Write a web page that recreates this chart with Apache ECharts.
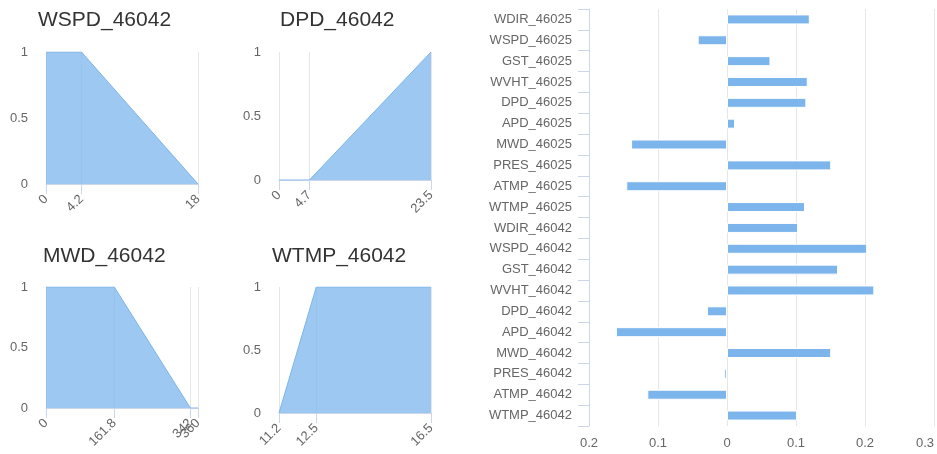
<!DOCTYPE html>
<html>
<head>
<meta charset="utf-8">
<script src="https://cdn.jsdelivr.net/npm/echarts@6/dist/echarts.min.js"></script>
<style>
  html, body { margin: 0; padding: 0; background: #fff; }
  #chart { width: 937px; height: 454px; }
</style>
</head>
<body>
<div id="chart"></div>
<script>
// membership functions (x breakpoints, y degree)
const wspdX = [0, 4.2, 18];
const wspdY = [1, 1, 0];
const dpdX = [0, 4.7, 23.5];
const dpdY = [0, 0, 1];
const mwdX = [0, 161.8, 342, 360];
const mwdY = [1, 1, 0, 0];
const wtmpX = [11.2, 12.5, 16.5];
const wtmpY = [0, 1, 1];
const smallTitles = ['WSPD_46042', 'DPD_46042', 'MWD_46042', 'WTMP_46042'];

// feature weights
const features = [
  'WDIR_46025', 'WSPD_46025', 'GST_46025', 'WVHT_46025', 'DPD_46025',
  'APD_46025', 'MWD_46025', 'PRES_46025', 'ATMP_46025', 'WTMP_46025',
  'WDIR_46042', 'WSPD_46042', 'GST_46042', 'WVHT_46042', 'DPD_46042',
  'APD_46042', 'MWD_46042', 'PRES_46042', 'ATMP_46042', 'WTMP_46042'
];
const weights = [
  0.120, -0.0425, 0.063, 0.117, 0.115,
  0.0116, -0.139, 0.151, -0.146, 0.113,
  0.103, 0.203, 0.161, 0.2135, -0.029,
  -0.161, 0.151, -0.004, -0.1155, 0.1015
];

const blue = '#7cb5ec';
const labelColor = '#666';
const axisColor = '#ccd6eb';
const gridColor = '#e6e6e6';
const font = 'Liberation Sans, Arial, sans-serif';

const small = [
  { xs: wspdX, ys: wspdY, left: 46, top: 52, height: 132, tl: 33, tt: 5 },
  { xs: dpdX, ys: dpdY, left: 279, top: 52, height: 128, tl: 275, tt: 5 },
  { xs: mwdX, ys: mwdY, left: 46, top: 287, height: 121, tl: 38, tt: 241 },
  { xs: wtmpX, ys: wtmpY, left: 279, top: 287, height: 126, tl: 267, tt: 241 }
];

const chart = echarts.init(document.getElementById('chart'));

const grid = [];
const xAxis = [];
const yAxis = [];
const series = [];
const title = [];

const xLabelStyle = {
  rotate: 45, margin: 13, color: labelColor, fontSize: 13, fontFamily: font,
  showMinLabel: true, showMaxLabel: true
};

small.forEach((c, i) => {
  title.push({
    text: smallTitles[i],
    left: c.tl,
    top: c.tt,
    textStyle: { fontFamily: font, fontSize: 21, fontWeight: 'normal', color: '#333' }
  });
  grid.push({ left: c.left, top: c.top, width: 152, height: c.height });
  xAxis.push({
    type: 'value',
    gridIndex: i,
    position: 'bottom',
    min: c.xs[0],
    max: c.xs[c.xs.length - 1],
    axisLine: { show: true, lineStyle: { color: axisColor } },
    axisTick: { show: true, length: 10, lineStyle: { color: axisColor }, customValues: c.xs },
    axisLabel: Object.assign({ customValues: c.xs.slice(0, -1) }, xLabelStyle),
    splitLine: { show: true, lineStyle: { color: gridColor } }
  });
  yAxis.push({
    type: 'value',
    gridIndex: i,
    min: 0,
    max: 1,
    interval: 0.5,
    axisLine: { show: false },
    axisTick: { show: false },
    axisLabel: { margin: 18, color: labelColor, fontSize: 13, fontFamily: font },
    splitLine: { show: false }
  });
  series.push({
    type: 'line',
    xAxisIndex: i,
    yAxisIndex: i,
    data: c.xs.map((x, k) => [x, c.ys[k]]),
    showSymbol: false,
    lineStyle: { color: blue, width: 1 },
    areaStyle: { color: blue, opacity: 0.75 },
    silent: true
  });
});

// weights bar chart
grid.push({ left: 589, top: 9, width: 346, height: 417 });
xAxis.push({
  type: 'value',
  gridIndex: 4,
  min: -0.2,
  max: 0.3,
  interval: 0.1,
  axisLine: { show: false },
  axisTick: { show: false },
  axisLabel: {
    margin: 11, color: labelColor, fontSize: 13, fontFamily: font,
    alignMaxLabel: 'right',
    formatter: v => String(Math.round(Math.abs(v) * 10) / 10)
  },
  splitLine: { show: true, lineStyle: { color: gridColor } }
});
yAxis.push({
  type: 'category',
  gridIndex: 4,
  data: features,
  inverse: true,
  axisLine: { show: true, onZero: false, lineStyle: { color: axisColor } },
  axisTick: { show: true, length: 11, lineStyle: { color: axisColor } },
  axisLabel: { margin: 17, color: labelColor, fontSize: 13, fontFamily: font, interval: 0 }
});
series.push({
  type: 'bar',
  xAxisIndex: 4,
  yAxisIndex: 4,
  data: weights,
  barWidth: 10,
  itemStyle: { color: blue, borderColor: '#fff', borderWidth: 1 }
});

// extra label-only axes so the max label of each small chart is never dropped
small.forEach((c, i) => {
  const xMax = c.xs[c.xs.length - 1];
  xAxis.push({
    type: 'value',
    gridIndex: i,
    position: 'bottom',
    min: c.xs[0],
    max: xMax,
    axisLine: { show: false },
    axisTick: { show: false },
    splitLine: { show: false },
    axisLabel: Object.assign({ customValues: [xMax] }, xLabelStyle)
  });
});

chart.setOption({
  animation: false,
  title: title,
  grid: grid,
  xAxis: xAxis,
  yAxis: yAxis,
  series: series
});
</script>
</body>
</html>
